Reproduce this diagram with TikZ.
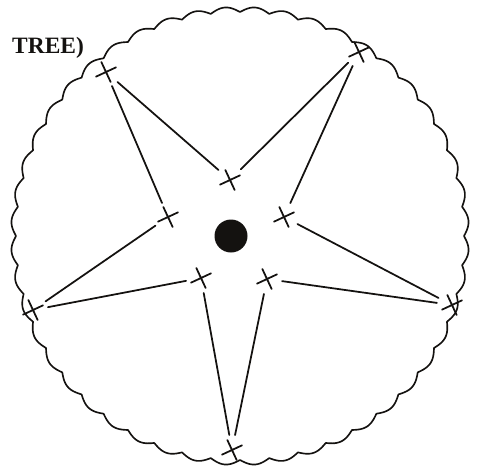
\documentclass[tikz,border=0pt]{standalone}
\usepackage{fontspec}
\setmainfont{Liberation Serif}
\usetikzlibrary{calc}
\definecolor{ink}{HTML}{141210}
\tikzset{el/.style={line cap=round, line join=round},
  arm/.style={ink,line width=1.5pt,shorten <=13pt,shorten >=13pt}}

\begin{document}
\begin{tikzpicture}[el,x=0.03cm,y=-0.03cm]
  \useasboundingbox (0,0) rectangle (477,468);
  % tips of the star
  \coordinate (t1) at (106,72);\coordinate (t2) at (359,52);\coordinate (t3) at (452,305);
  \coordinate (t4) at (232,450);\coordinate (t5) at (33,310);
  % inner corners
  \coordinate (i1) at (230,180);\coordinate (i2) at (284,217);\coordinate (i3) at (267,279);
  \coordinate (i4) at (201,278);\coordinate (i5) at (168,217);
  \coordinate (o) at (231,236);
  % scalloped rim
  \draw[ink,line width=1.4pt] plot[domain=0:360,samples=721]
     ({240+(224+5*abs(sin(24*\x)))*cos(\x)},{236+(224+5*abs(sin(24*\x)))*sin(\x)}) -- cycle;
  \foreach \a/\b in {t1/i1,t1/i5,t2/i1,t2/i2,t3/i2,t3/i3,t4/i3,t4/i4,t5/i4,t5/i5}{\draw[arm] (\a)--(\b);}
  \foreach \n in {t1,t2,t3,t4,t5,i1,i2,i3,i4,i5}{
     \draw[ink,line width=1.5pt] ($(\n)+(-25:11)$)--($(\n)+(155:11)$) ($(\n)+(65:11)$)--($(\n)+(245:11)$);}
  \fill[ink] (o) circle (16.5);
  \node[ink,font=\fontsize{20}{23}\selectfont\bfseries,anchor=base west,inner sep=0] (lbl) at (12,53) {TREE)};
\end{tikzpicture}
\end{document}
